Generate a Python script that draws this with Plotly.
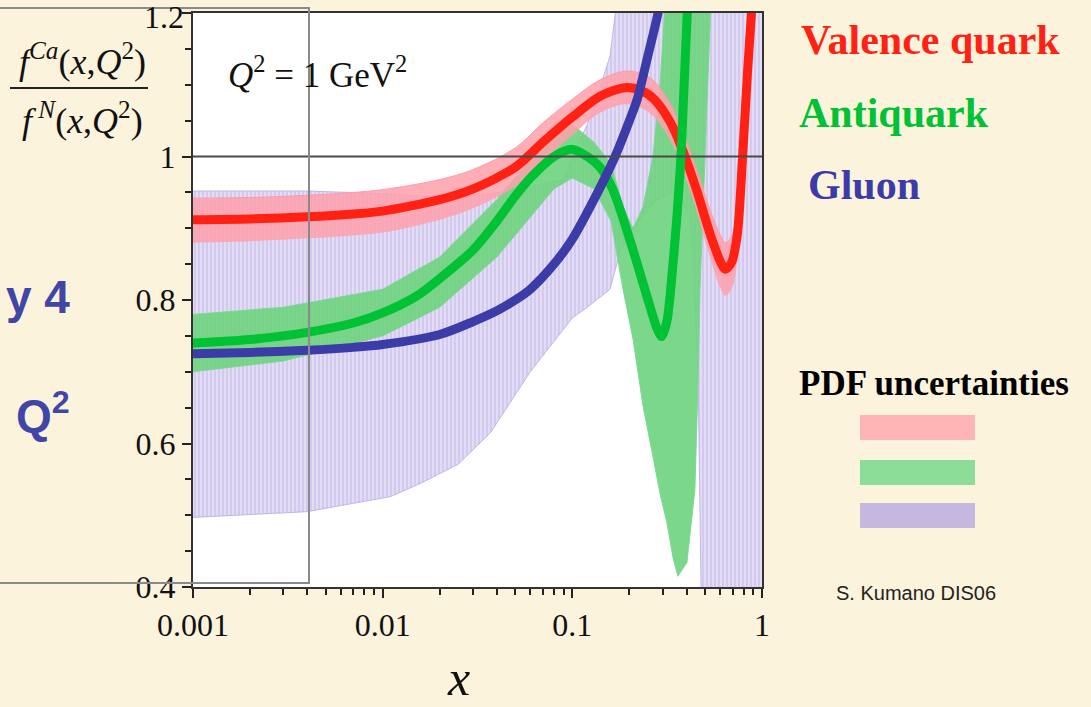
import plotly.graph_objects as go

# ---------------- data ----------------
x_val = [0.001, 0.002, 0.004, 0.007, 0.01, 0.02, 0.03, 0.05, 0.07, 0.1, 0.14, 0.19,
         0.23, 0.27, 0.33, 0.38, 0.45, 0.53, 0.6, 0.64, 0.69, 0.74, 0.79, 0.84, 0.885]
valence = [0.912, 0.913, 0.916, 0.92, 0.924, 0.94, 0.955, 0.985, 1.02, 1.055, 1.084, 1.096,
           1.092, 1.08, 1.047, 1.01, 0.955, 0.894, 0.855, 0.843, 0.852, 0.89, 1.0, 1.12, 1.21]
valence_hi = [0.942, 0.943, 0.946, 0.95, 0.954, 0.968, 0.982, 1.012, 1.047, 1.08, 1.107, 1.119,
              1.116, 1.105, 1.073, 1.037, 0.984, 0.927, 0.892, 0.88, 0.889, 0.927, 1.03, 1.15, 1.24]
valence_lo = [0.88, 0.882, 0.886, 0.89, 0.894, 0.912, 0.928, 0.958, 0.993, 1.03, 1.061, 1.073,
              1.068, 1.055, 1.021, 0.983, 0.926, 0.861, 0.818, 0.806, 0.815, 0.853, 0.97, 1.09, 1.18]

x_aq = [0.001, 0.002, 0.004, 0.007, 0.01, 0.015, 0.02, 0.03, 0.04, 0.05, 0.06, 0.08, 0.1,
        0.12, 0.14, 0.163, 0.206, 0.256, 0.28, 0.296, 0.315, 0.338, 0.37, 0.39, 0.405]
antiquark = [0.74, 0.745, 0.755, 0.768, 0.782, 0.805, 0.83, 0.87, 0.91, 0.945, 0.97, 1.0, 1.01,
             1.0, 0.985, 0.955, 0.875, 0.792, 0.76, 0.749, 0.77, 0.845, 0.98, 1.11, 1.21]

x_aq_band = [0.001, 0.003, 0.01, 0.02, 0.04, 0.06, 0.08, 0.1, 0.13, 0.16, 0.185, 0.209, 0.236,
             0.266, 0.29, 0.315, 0.34, 0.36, 0.402, 0.443, 0.459, 0.471, 0.5, 0.544]
antiquark_hi = [0.78, 0.79, 0.815, 0.86, 0.94, 0.995, 1.035, 1.045, 1.02, 0.99, 0.93, 0.9, 0.93,
                1.0, 1.1, 1.25, 1.25, 1.25, 1.25, 1.25, 1.25, 1.25, 1.25, 1.25]
antiquark_lo = [0.70, 0.715, 0.75, 0.79, 0.86, 0.915, 0.955, 0.97, 0.955, 0.91, 0.815, 0.745, 0.652,
                0.582, 0.53, 0.49, 0.44, 0.415, 0.434, 0.536, 0.675, 0.815, 1.0, 1.25]

x_gl = [0.001, 0.002, 0.004, 0.007, 0.01, 0.02, 0.03, 0.04, 0.05, 0.06, 0.08, 0.1, 0.13,
        0.168, 0.2, 0.22, 0.25, 0.283, 0.3]
gluon = [0.725, 0.727, 0.73, 0.734, 0.738, 0.752, 0.77, 0.785, 0.80, 0.815, 0.85, 0.885, 0.94,
         1.0, 1.05, 1.08, 1.14, 1.2, 1.24]

x_gl_band = [0.001, 0.004, 0.011, 0.016, 0.025, 0.037, 0.06, 0.09, 0.1, 0.12, 0.134, 0.158,
             0.178, 0.236, 0.28, 0.35, 0.42, 0.46, 0.48, 1.0]
gluon_hi = [0.952, 0.952, 0.948, 0.945, 0.945, 0.948, 0.958, 0.968, 1.0, 1.045, 1.08, 1.14,
            1.25, 1.25, 1.25, 1.25, 1.25, 1.25, 1.25, 1.25]
gluon_lo = [0.497, 0.505, 0.526, 0.545, 0.571, 0.615, 0.70, 0.76, 0.775, 0.79, 0.80, 0.815,
            0.866, 0.92, 0.94, 0.95, 0.92, 0.70, 0.35, 0.35]

x_ticks = [0.001, 0.01, 0.1, 1]
x_ticktext = ["0.001", "0.01", "0.1", "1"]
y_ticks = [0.4, 0.6, 0.8, 1.0, 1.2]
y_ticktext = ["0.4", "0.6", "0.8", "1", "1.2"]

series_names = ["Valence quark", "Antiquark", "Gluon"]

# ---------------- styling ----------------
RED = "#ff2214"
GREEN = "#00c234"
BLUE = "#3c3ca8"
SERIF = "Liberation Serif"
BG = "#fcf3dc"

W, H = 1091, 707
L, R, T, B = 193, 762, 13, 587


def px(xp):
    return (xp - L) / (R - L)


def py(yp):
    return (B - yp) / (B - T)


fig = go.Figure()

# gluon uncertainty band (lavender with vertical hatching)
fig.add_trace(go.Scatter(x=x_gl_band, y=gluon_lo, mode="lines",
                         line=dict(width=1, color="rgba(190,175,230,0.9)"),
                         showlegend=False, hoverinfo="skip"))
fig.add_trace(go.Scatter(x=x_gl_band, y=gluon_hi, mode="lines",
                         line=dict(width=1, color="rgba(190,175,230,0.9)"),
                         fill="tonexty", fillcolor="rgba(222,216,242,1)",
                         fillpattern=dict(shape="|", size=4, solidity=0.35,
                                          fgcolor="rgba(182,164,226,1)",
                                          bgcolor="rgba(226,221,244,1)"),
                         showlegend=False, hoverinfo="skip"))

# antiquark band
fig.add_trace(go.Scatter(x=x_aq_band, y=antiquark_lo, mode="lines",
                         line=dict(width=1, color="rgba(120,215,150,0.9)"),
                         showlegend=False, hoverinfo="skip"))
fig.add_trace(go.Scatter(x=x_aq_band, y=antiquark_hi, mode="lines",
                         line=dict(width=1, color="rgba(120,215,150,0.9)"),
                         fill="tonexty", fillcolor="rgba(112,212,128,0.92)",
                         showlegend=False, hoverinfo="skip"))

# valence band
fig.add_trace(go.Scatter(x=x_val, y=valence_lo, mode="lines", line=dict(width=0, shape="spline"),
                         showlegend=False, hoverinfo="skip"))
fig.add_trace(go.Scatter(x=x_val, y=valence_hi, mode="lines",
                         line=dict(width=1, color="rgba(255,150,165,0.9)", shape="spline"),
                         fill="tonexty", fillcolor="rgba(255,160,170,0.85)",
                         showlegend=False, hoverinfo="skip"))

# central lines
fig.add_trace(go.Scatter(x=x_val, y=valence, mode="lines", name=series_names[0],
                         line=dict(color=RED, width=9, shape="spline", smoothing=0.8),
                         showlegend=False))
fig.add_trace(go.Scatter(x=x_aq, y=antiquark, mode="lines", name=series_names[1],
                         line=dict(color=GREEN, width=9, shape="spline", smoothing=0.8),
                         showlegend=False))
fig.add_trace(go.Scatter(x=x_gl, y=gluon, mode="lines", name=series_names[2],
                         line=dict(color=BLUE, width=9, shape="spline", smoothing=0.8),
                         showlegend=False))

shapes = []
# y = 1 reference line
shapes.append(dict(type="line", xref="paper", yref="y", x0=0, x1=1, y0=1, y1=1,
                   line=dict(color="#4a4a4a", width=2), layer="above"))
# grey slide rectangle overlay
shapes.append(dict(type="rect", xref="paper", yref="paper", x0=px(-2), x1=px(309),
                   y0=py(583), y1=py(8), line=dict(color="#8a8a8a", width=2), layer="above"))
# fraction bar
shapes.append(dict(type="line", xref="paper", yref="paper", x0=px(10), x1=px(148),
                   y0=py(88), y1=py(88), line=dict(color="#222", width=2)))
# uncertainty swatches
for (top, col) in [(415, "#ffb4b6"), (460, "#8bdd98"), (503, "#c4b7e0")]:
    shapes.append(dict(type="rect", xref="paper", yref="paper", x0=px(860), x1=px(975),
                       y0=py(top + 25), y1=py(top), line=dict(width=0), fillcolor=col))

ann = []


def add_text(text, xp, yp, size, color="#000", family=SERIF, xanchor="left", bold=False):
    if bold:
        text = "<b>" + text + "</b>"
    ann.append(dict(text=text, xref="paper", yref="paper", x=px(xp), y=py(yp),
                    xanchor=xanchor, yanchor="middle", showarrow=False,
                    font=dict(size=size, color=color, family=family)))


add_text(series_names[0], 799, 40, 42, RED, bold=True)
add_text(series_names[1], 797, 113, 42, GREEN, bold=True)
add_text(series_names[2], 806, 185, 42, BLUE, bold=True)
add_text("PDF uncertainties", 797, 383, 35, "#000", bold=True)
add_text("S. Kumano DIS06", 834, 593, 20, "#222", family="Liberation Sans")
add_text("y 4", 72, 297, 46, "#3f46a6", family="Liberation Sans", xanchor="right", bold=True)
add_text("Q<sup>2</sup>", 72, 413, 46, "#3f46a6", family="Liberation Sans", xanchor="right", bold=True)
add_text("<i>f</i><sup><i>Ca</i></sup>(<i>x</i>,<i>Q</i><sup>2</sup>)", 82, 60, 36, "#111", xanchor="center")
add_text("<i>f</i><sup><i> N</i></sup>(<i>x</i>,<i>Q</i><sup>2</sup>)", 82, 118, 36, "#111", xanchor="center")
add_text("<i>Q</i><sup>2</sup> = 1 GeV<sup>2</sup>", 226, 72, 35, "#111")
add_text("<i>x</i>", 458, 678, 50, "#111", xanchor="center")
# top y tick label (plotly drops it at the very edge of the figure)
add_text(y_ticktext[-1], 186, 17, 32, "#111", xanchor="right")

fig.update_layout(
    width=W, height=H,
    margin=dict(l=L, r=W - R, t=T, b=H - B, pad=0),
    paper_bgcolor=BG, plot_bgcolor="white",
    shapes=shapes, annotations=ann, showlegend=False,
)
fig.update_xaxes(type="log", range=[-3, 0], tickvals=x_ticks, ticktext=x_ticktext,
                 ticks="outside", ticklen=9, tickwidth=2, tickcolor="#222",
                 showline=True, linecolor="#333", linewidth=2, mirror=True,
                 showgrid=False, zeroline=False,
                 tickfont=dict(family=SERIF, size=32, color="#111"),
                 minor=dict(ticks="outside", ticklen=6, tickwidth=2, tickcolor="#222",
                            dtick="D1", showgrid=False))
fig.update_yaxes(range=[0.4, 1.2001], tickvals=y_ticks, ticktext=y_ticktext[:-1] + [""],
                 ticks="outside", ticklen=9, tickwidth=2, tickcolor="#222",
                 showline=True, linecolor="#333", linewidth=2, mirror=True,
                 showgrid=False, zeroline=False,
                 tickfont=dict(family=SERIF, size=32, color="#111"),
                 minor=dict(ticks="outside", ticklen=6, tickwidth=2, tickcolor="#222",
                            dtick=0.05, showgrid=False))

fig.write_html("out.html")
